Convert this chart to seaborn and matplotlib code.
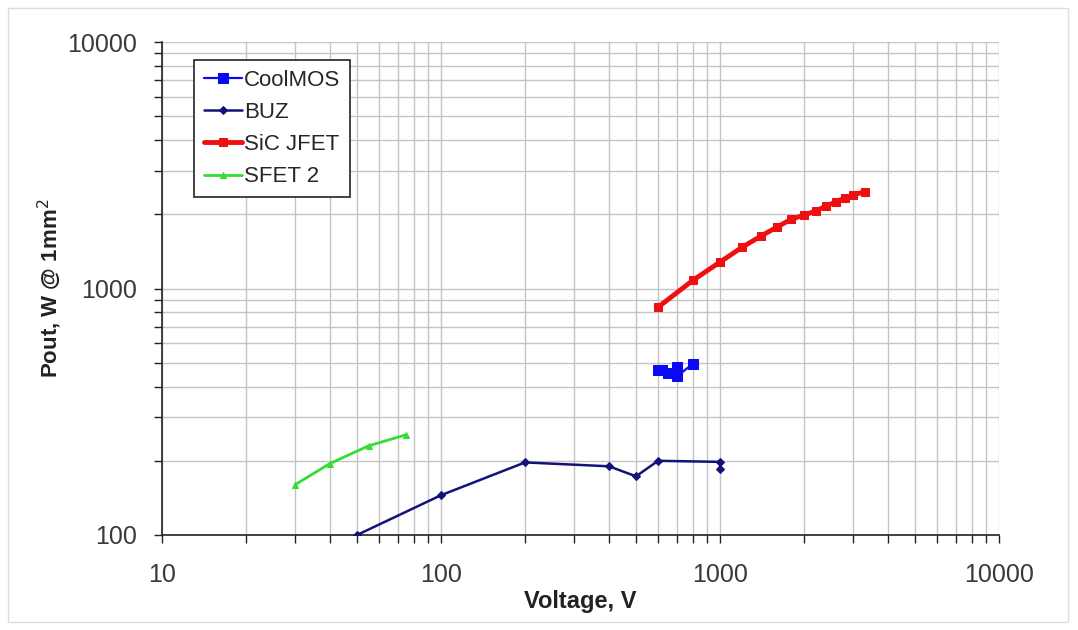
import matplotlib
matplotlib.use("Agg")
import matplotlib.pyplot as plt
import seaborn as sns
import numpy as np
import pandas as pd
from matplotlib.ticker import LogLocator, FixedLocator, NullFormatter, FixedFormatter
from matplotlib.patches import Rectangle

# ---- data ----
coolmos_v = [600, 620, 650, 700, 700, 800]
coolmos_p = [465, 465, 455, 480, 440, 495]

buz_v = [50, 100, 200, 400, 500, 600, 1000, 1000]
buz_p = [100, 145, 197, 190, 173, 200, 198, 185]

sic_v = [600, 800, 1000, 1200, 1400, 1600, 1800, 2000, 2200, 2400, 2600, 2800, 3000, 3300]
sic_p = [840, 1080, 1280, 1470, 1630, 1775, 1910, 1985, 2060, 2160, 2245, 2330, 2395, 2470]

sfet_v = [30, 40, 55, 75]
sfet_p = [160, 195, 230, 255]

x_ticks = [10, 100, 1000, 10000]
y_ticks = [100, 1000, 10000]

sns.set_theme(style="white")
plt.rcParams['font.family'] = ['Liberation Sans', 'DejaVu Sans']

fig = plt.figure(figsize=(10.78, 6.30), dpi=100)
ax = fig.add_axes([162/1078, 95/630, (999-162)/1078, (535-42)/630])

series = [
    ("CoolMOS", coolmos_v, coolmos_p, "#0a0af0", "s", 1.6, 6.5),
    ("BUZ", buz_v, buz_p, "#121278", "D", 1.8, 4.5),
    ("SiC JFET", sic_v, sic_p, "#ee1010", "s", 3.5, 6),
    ("SFET 2", sfet_v, sfet_p, "#33dd33", "^", 2.0, 5),
]
for name, xv, yv, col, mk, lw, ms in series:
    df = pd.DataFrame({"v": xv, "p": yv})
    sns.lineplot(data=df, x="v", y="p", ax=ax, sort=False, estimator=None,
                 color=col, marker=mk, linewidth=lw, markersize=ms,
                 markeredgecolor=col, label=name, zorder=3)

ax.set_xscale("log")
ax.set_yscale("log")
ax.set_xlim(10, 10000)
ax.set_ylim(100, 10000)

ax.xaxis.set_major_locator(FixedLocator(x_ticks))
ax.xaxis.set_major_formatter(FixedFormatter([str(t) for t in x_ticks]))
ax.yaxis.set_major_locator(FixedLocator(y_ticks))
ax.yaxis.set_major_formatter(FixedFormatter([str(t) for t in y_ticks]))
ax.xaxis.set_minor_locator(LogLocator(base=10, subs=np.arange(2, 10)))
ax.yaxis.set_minor_locator(LogLocator(base=10, subs=np.arange(2, 10)))
ax.xaxis.set_minor_formatter(NullFormatter())
ax.yaxis.set_minor_formatter(NullFormatter())

ax.grid(True, which="both", color="#c4c4c4", linewidth=1.0)
ax.set_axisbelow(True)

for s in ["top", "right"]:
    ax.spines[s].set_visible(False)
for s in ["left", "bottom"]:
    ax.spines[s].set_color("#222222")
    ax.spines[s].set_linewidth(1.2)

ax.tick_params(axis="both", which="both", direction="out", length=6, width=1.0,
               color="#222222", labelsize=18, labelcolor="#3a3a3a",
               bottom=True, left=True)
ax.tick_params(axis="x", which="major", pad=14)
ax.tick_params(axis="y", which="major", pad=12)

ax.set_xlabel("Voltage, V", fontsize=17, fontweight="bold", color="#222222", labelpad=2)
ax.set_ylabel("Pout, W @ 1mm$^2$", fontsize=16, fontweight="bold", color="#222222", labelpad=2)

leg = ax.legend(loc="upper left", bbox_to_anchor=((194-162)/837, 1 - (60-42)/493),
                frameon=True, fancybox=False, fontsize=16, handlelength=1.7,
                handletextpad=0.1, borderpad=0.45, labelspacing=0.5, borderaxespad=0)
leg.get_frame().set_edgecolor("#222222")
leg.get_frame().set_linewidth(1.2)
leg.get_frame().set_facecolor("white")
leg.get_frame().set_alpha(1)

fig.patches.append(Rectangle((8/1078, 8/630), 1060/1078, 614/630, transform=fig.transFigure,
                             fill=False, edgecolor="#dddddd", linewidth=1.0))

fig.savefig("out.png", dpi=100)
